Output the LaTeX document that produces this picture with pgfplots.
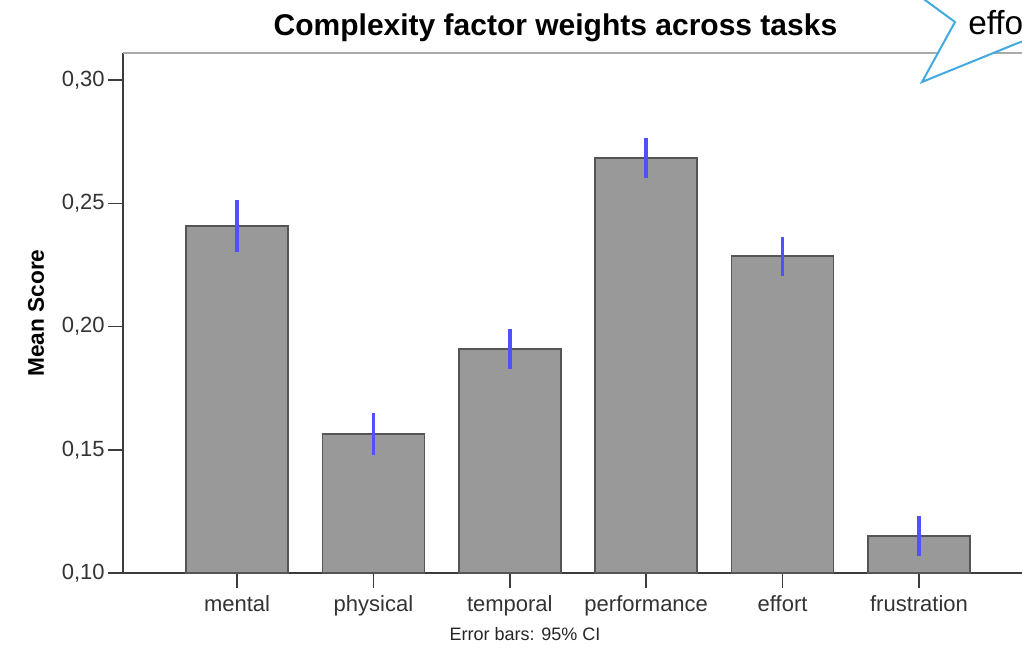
\documentclass[border=0pt]{standalone}
\usepackage{fontspec}
\setmainfont{Liberation Sans}
\usepackage{pgfplots}
\pgfplotsset{compat=1.18}
\definecolor{barfill}{RGB}{153,153,153}
\definecolor{bardraw}{RGB}{85,85,85}
\definecolor{errblue}{RGB}{80,80,255}
\definecolor{axisgray}{RGB}{60,60,60}
\definecolor{framegray}{RGB}{170,170,170}
\definecolor{callout}{RGB}{65,170,225}
\begin{document}
\begin{tikzpicture}
\path[use as bounding box, clip] (0pt,0pt) rectangle (766.5pt,486pt);
\begin{axis}[
  at={(92.25pt,56.25pt)}, anchor=south west,
  scale only axis,
  width=699.3pt, height=390pt,
  xmin=-0.836, xmax=6.0,
  ymin=0.10, ymax=0.311,
  axis lines*=left,
  axis line style={axisgray, line width=1.1pt},
  tick style={axisgray, line width=1.1pt},
  tick align=outside,
  major tick length=11.25pt,
  xtick={0,1,2,3,4,5},
  xticklabels={mental,physical,temporal,performance,effort,frustration},
  ytick={0.10,0.15,0.20,0.25,0.30},
  yticklabel style={/pgf/number format/fixed, /pgf/number format/fixed zerofill, /pgf/number format/precision=2, /pgf/number format/use comma, /pgf/number format/assume math mode=true, xshift=1pt},
  ticklabel style={font=\fontsize{16.5}{18}\selectfont, text=black!80},
  xticklabel style={yshift=-2pt},
  clip=false,
]
\addplot[ybar, bar width=76.5pt, bar shift=0pt, fill=barfill, draw=bardraw, line width=1.1pt]
  coordinates {(0,0.2408) (1,0.1564) (2,0.1909) (3,0.2684) (4,0.2286) (5,0.1150)};
\addplot[draw=none, mark=none, forget plot,
  error bars/.cd, y dir=both, y explicit, error mark=none,
  error bar style={errblue, line width=2.6pt}]
  coordinates {
   (0,0.2408) +- (0,0.0105)
   (1,0.1564) +- (0,0.0087)
   (2,0.1909) +- (0,0.0081)
   (3,0.2684) +- (0,0.0082)
   (4,0.2286) +- (0,0.0079)
   (5,0.1150) +- (0,0.0083)
  };
\draw[framegray, line width=1.5pt] (rel axis cs:0,1) -- (rel axis cs:1,1);
\end{axis}
\node[font=\fontsize{22.5}{26}\selectfont\bfseries] at (416.6pt,465pt) {Complexity factor weights across tasks};
\node[font=\fontsize{17}{19}\selectfont\bfseries, rotate=90] at (27pt,251.25pt) {Mean Score};
\node[font=\fontsize{13.5}{15}\selectfont, text=black!85] at (393.75pt,10.5pt) {Error bars: 95\% CI};
\draw[callout, fill=white, line width=1.5pt, line join=miter]
  (683.5pt,493.5pt) -- (693.75pt,486pt) -- (716.25pt,469.5pt) -- (691.5pt,424.5pt) -- (763.5pt,453.75pt) -- (790pt,462pt) -- (790pt,493.5pt);
\node[anchor=base west, inner sep=0pt, font=\fontsize{25}{28}\selectfont] at (726pt,459.75pt) {effort};
\end{tikzpicture}
\end{document}
